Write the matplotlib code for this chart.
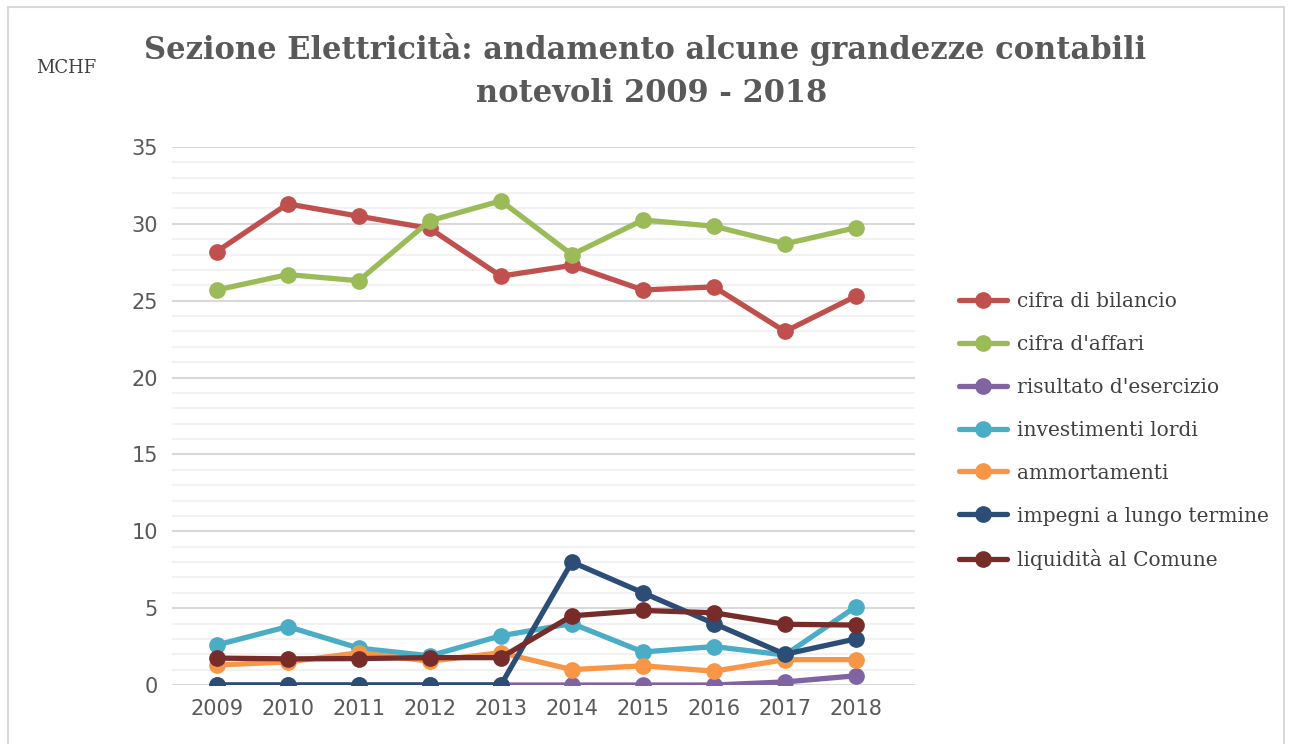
import matplotlib.pyplot as plt
from matplotlib.patches import Rectangle
from matplotlib.ticker import MultipleLocator

years = [2009, 2010, 2011, 2012, 2013, 2014, 2015, 2016, 2017, 2018]

cifra_bilancio = [28.2, 31.3, 30.5, 29.7, 26.6, 27.3, 25.7, 25.9, 23.0, 25.3]
cifra_affari = [25.7, 26.7, 26.3, 30.2, 31.5, 28.0, 30.25, 29.85, 28.7, 29.75]
risultato = [0.0, 0.0, 0.0, 0.0, 0.0, 0.0, 0.0, 0.0, 0.2, 0.6]
investimenti = [2.6, 3.8, 2.4, 1.9, 3.2, 4.0, 2.15, 2.5, 1.95, 5.1]
ammortamenti = [1.3, 1.5, 2.1, 1.55, 2.1, 1.0, 1.25, 0.9, 1.65, 1.65]
impegni = [0.0, 0.0, 0.0, 0.0, 0.0, 8.0, 6.0, 4.0, 2.0, 3.0]
liquidita = [1.75, 1.7, 1.72, 1.78, 1.78, 4.5, 4.85, 4.7, 3.95, 3.9]

series = [
    ("cifra di bilancio", cifra_bilancio, "#C0504D"),
    ("cifra d'affari", cifra_affari, "#9BBB59"),
    ("risultato d'esercizio", risultato, "#8064A2"),
    ("investimenti lordi", investimenti, "#4BACC6"),
    ("ammortamenti", ammortamenti, "#F79646"),
    ("impegni a lungo termine", impegni, "#2C4D75"),
    ("liquidità al Comune", liquidita, "#772C2A"),
]

text_col = "#595959"
serif = "DejaVu Serif"

fig = plt.figure(figsize=(12.9, 7.44), dpi=100)
fig.patches.append(Rectangle((0.006, -0.01), 0.989, 1.0, transform=fig.transFigure,
                             fill=False, edgecolor="#D9D9D9", linewidth=1.5))

ax = fig.add_axes([0.1333, 0.0793, 0.5760, 0.7231])

for name, vals, col in series:
    ax.plot(years, vals, color=col, linewidth=3.8, marker="o", markersize=11,
            label=name, solid_capstyle="round", zorder=3)

ax.set_ylim(0, 35)
ax.set_xlim(2008.37, 2018.83)
ax.yaxis.set_major_locator(MultipleLocator(5))
ax.yaxis.set_minor_locator(MultipleLocator(1))
ax.set_xticks(years)
ax.grid(axis="y", which="major", color="#D9D9D9", linewidth=1.5, zorder=0)
ax.grid(axis="y", which="minor", color="#F2F2F2", linewidth=1.5, zorder=0)
for s in ax.spines.values():
    s.set_visible(False)
ax.tick_params(axis="both", which="both", length=0, labelsize=15, colors=text_col, pad=10)

ax.legend(loc="center left", bbox_to_anchor=(1.035, 0.472), frameon=False,
          prop={"family": serif, "size": 14.5}, labelcolor="#404040",
          handlelength=2.4, labelspacing=1.19, handletextpad=0.45)

fig.text(0.5, 0.955, "Sezione Elettricità: andamento alcune grandezze contabili",
         ha="center", va="top", fontsize=22, fontweight="bold",
         family=serif, color=text_col)
fig.text(0.505, 0.895, "notevoli 2009 - 2018",
         ha="center", va="top", fontsize=22, fontweight="bold",
         family=serif, color=text_col)
fig.text(0.028, 0.908, "MCHF", ha="left", va="center", fontsize=13,
         family=serif, color="#404040")

fig.savefig("out.png", dpi=100)
